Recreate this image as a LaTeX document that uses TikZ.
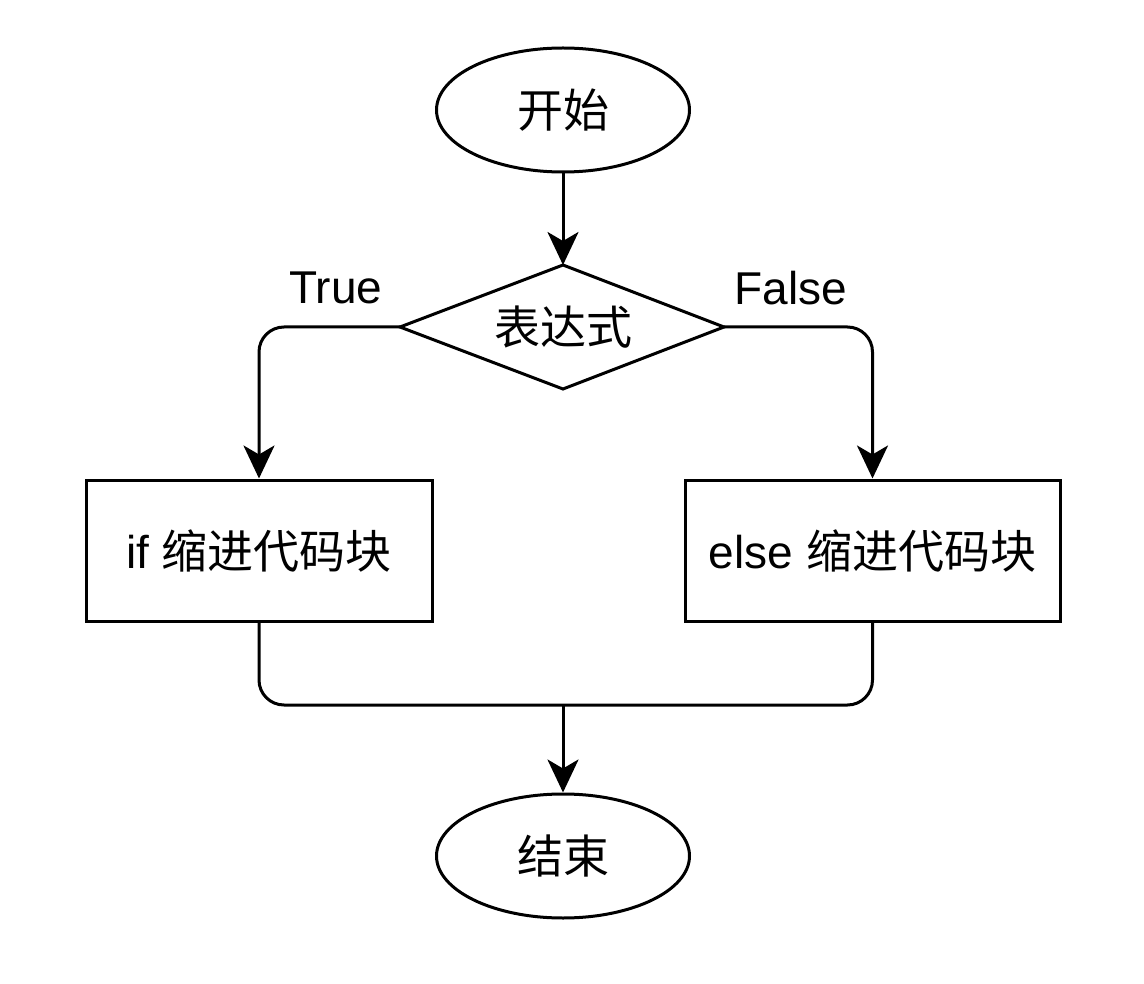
\documentclass[tikz,border=0pt]{standalone}
\usepackage{fontspec}
\setmainfont{Liberation Sans}
\newfontfamily\cjk{Noto Sans CJK SC}
\usetikzlibrary{shapes.geometric,arrows.meta}
\begin{document}
\begin{tikzpicture}[x=1pt,y=-1pt,
  every node/.style={font=\fontsize{46}{55}\selectfont, text=black},
  base/.style={draw=black, line width=3pt, fill=white, inner sep=0pt},
  term/.style={base, ellipse, minimum width=253pt, minimum height=124pt},
  outline/.style={draw=black, line width=3pt, fill=white, line join=miter},
  blockbox/.style={base, rectangle},
  conn/.style={draw=black, line width=3pt, rounded corners=25pt},
  arr/.style={conn, -{Stealth[length=33pt, width=31pt, inset=9pt]}},
  lbl/.style={inner sep=0pt}
]
\useasboundingbox (0,0) rectangle (1144,984);
\node[term] (start) at (563,110) {\cjk 开始};
\coordinate (dT) at (563,265);
\coordinate (dL) at (400,327);
\coordinate (dR) at (724,327);
\coordinate (dB) at (563,389);
\draw[outline] (dT) -- (dR) -- (dB) -- (dL) -- cycle;
\node[lbl] (cond) at (563,327) {\cjk 表达式};
\node[blockbox, minimum width=346pt, minimum height=141pt] (ifb) at (259,550.5) {if {\cjk 缩进代码块}};
\node[blockbox, minimum width=375pt, minimum height=141pt] (elseb) at (872.5,550.5) {else {\cjk 缩进代码块}};
\node[term] (stop) at (563,856) {\cjk 结束};
\node[lbl] (tl) at (336,288) {True};
\node[lbl] (fl) at (791,288) {False};
\coordinate (join) at (563,705);
\draw[arr] (start) -- (dT);
\draw[arr] (dL) -| (ifb.north);
\draw[arr] (dR) -| (elseb.north);
\draw[conn] (ifb.south) |- (join) -| (elseb.south);
\draw[arr] (join) -- (stop.north);
\end{tikzpicture}
\end{document}
